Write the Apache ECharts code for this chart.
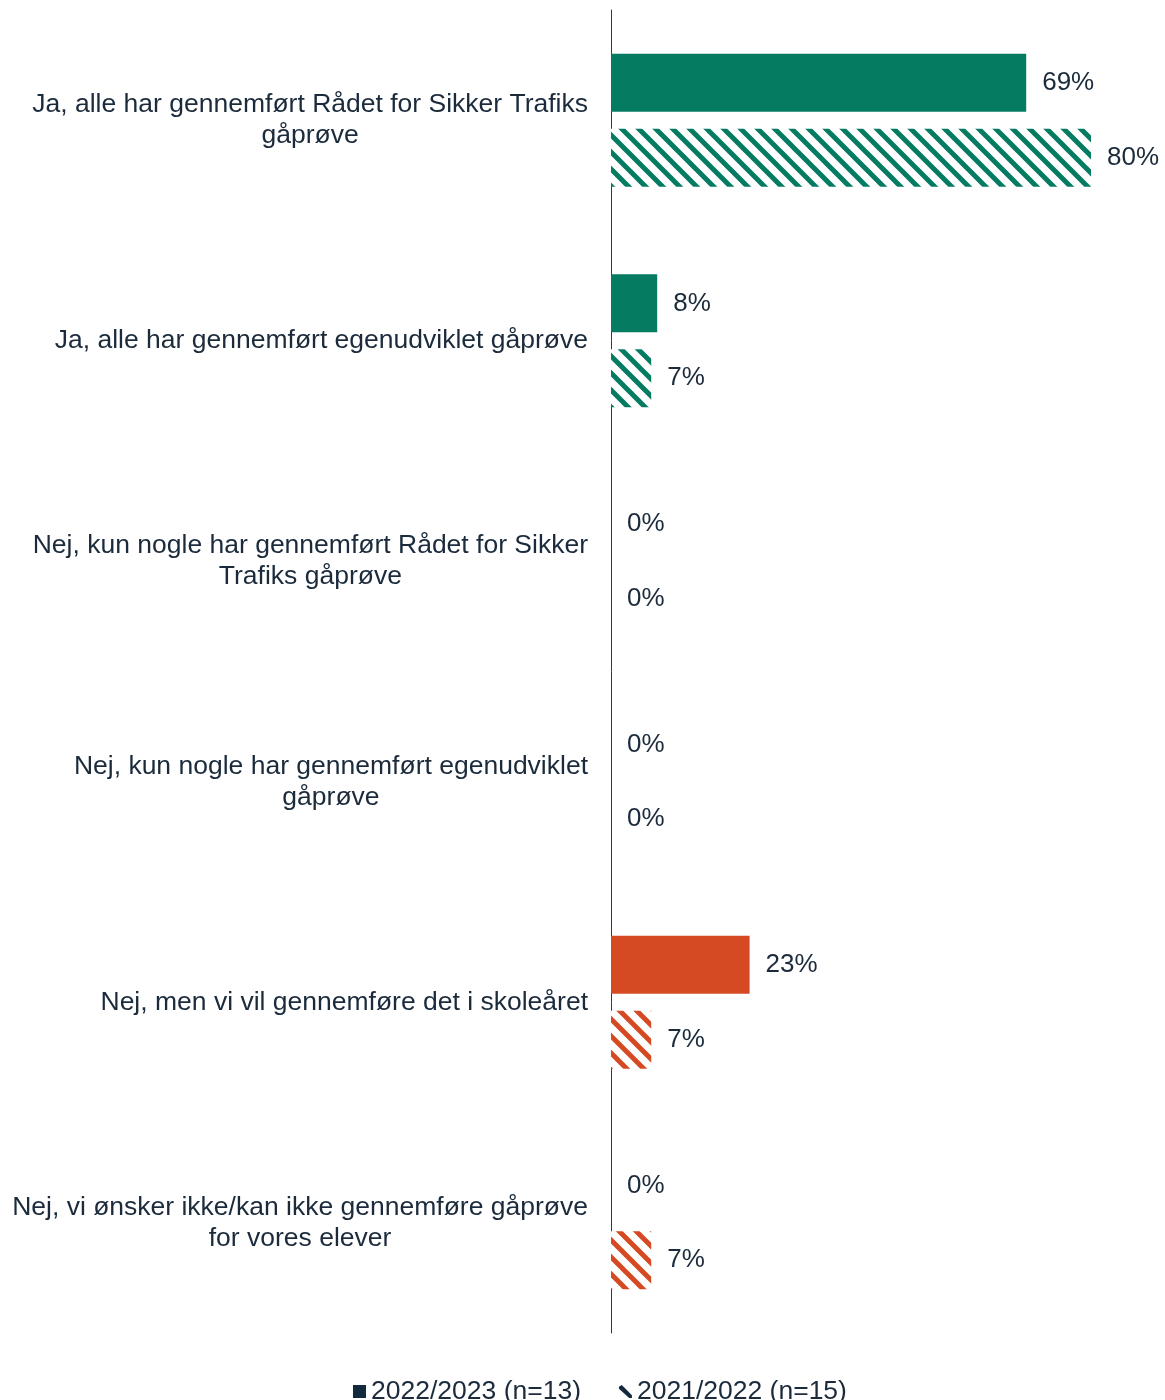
<!DOCTYPE html>
<html>
<head>
<meta charset="utf-8">
<script src="https://cdn.jsdelivr.net/npm/echarts@6/dist/echarts.min.js"></script>
<style>
  html, body { margin: 0; padding: 0; background: #fff; }
  #chart { width: 1165px; height: 1400px; }
</style>
</head>
<body>
<div id="chart"></div>
<script>
// svar-kategorier (linjeskift som i originalen)
const categories = [
  'Ja, alle har gennemført Rådet for Sikker Trafiks\ngåprøve',
  'Ja, alle har gennemført egenudviklet gåprøve',
  'Nej, kun nogle har gennemført Rådet for Sikker\nTrafiks gåprøve',
  'Nej, kun nogle har gennemført egenudviklet\ngåprøve',
  'Nej, men vi vil gennemføre det i skoleåret',
  'Nej, vi ønsker ikke/kan ikke gennemføre gåprøve\nfor vores elever'
]
const seriesNames = ['2022/2023 (n=13)', '2021/2022 (n=15)']
const values2223 = [69.2, 7.7, 0, 0, 23.1, 0]
const values2122 = [80, 6.7, 0, 0, 6.7, 6.7]

const GREEN = '#057B62'
const ORANGE = '#D64A23'
const TEXT = '#1B2B3C'
const FONT = '"Liberation Sans", Arial, sans-serif'

const hatch = function (color) {
    const size = 17
    const c = document.createElement('canvas')
    c.width = size
    c.height = size
    const ctx = c.getContext('2d')
    ctx.fillStyle = '#fff'
    ctx.fillRect(0, 0, size, size)
    ctx.strokeStyle = color
    ctx.lineWidth = 5
    ctx.beginPath()
    ctx.moveTo(-4, -4); ctx.lineTo(size + 4, size + 4)
    ctx.moveTo(size - 4, -4); ctx.lineTo(size + 4, 4)
    ctx.moveTo(-4, size - 4); ctx.lineTo(4, size + 4)
    ctx.stroke()
    return c
}
const greenHatch = hatch(GREEN)
const orangeHatch = hatch(ORANGE)

// orange for the "Nej, men..." and "Nej, vi ønsker..." rows
const isOrange = (i) => i >= 4

const label = {
    show: true,
    position: 'right',
    distance: 16,
    color: TEXT,
    fontSize: 26,
    fontFamily: FONT,
    formatter: (p) => Math.round(p.value) + '%'
}

const myChart = echarts.init(document.getElementById('chart'))
myChart.setOption({
    animation: false,
    textStyle: { fontFamily: FONT },
    grid: {
        left: 611,
        right: 14,
        top: 10,
        bottom: 67,
        containLabel: false
    },
    legend: {
        top: 1373,
        left: 348,
        itemWidth: 13,
        itemHeight: 13,
        itemGap: 38,
        textStyle: { color: TEXT, fontSize: 26.5, fontFamily: FONT },
        data: [
            { name: seriesNames[0], icon: 'rect', itemStyle: { color: '#13293D' } },
            { name: seriesNames[1], icon: 'path://M0,2 L3,0 L14,11 L14,14 L11,14 L0,4 Z', itemStyle: { color: '#13293D' } }
        ]
    },
    xAxis: {
        type: 'value',
        min: 0,
        max: 90,
        show: false
    },
    yAxis: {
        type: 'category',
        inverse: true,
        data: categories,
        axisLine: { show: true, lineStyle: { color: '#2E3A46', width: 1 } },
        axisTick: { show: false },
        axisLabel: {
            margin: 23,
            align: 'right',
            formatter: (v) => v.split('\n').map(s => '{c|' + s + '}').join('\n'),
            rich: {
                c: {
                    align: 'center',
                    color: TEXT,
                    fontSize: 26.5,
                    lineHeight: 31,
                    fontFamily: FONT
                }
            }
        }
    },
    series: [
        {
            name: seriesNames[0],
            type: 'bar',
            barWidth: 58,
            barGap: '29%',
            data: values2223.map((v, i) => ({
                value: v,
                itemStyle: { color: isOrange(i) ? ORANGE : GREEN }
            })),
            label: label
        },
        {
            name: seriesNames[1],
            type: 'bar',
            barWidth: 58,
            data: values2122.map((v, i) => ({
                value: v,
                itemStyle: {
                    color: { image: isOrange(i) ? orangeHatch : greenHatch, repeat: 'repeat' }
                }
            })),
            label: label
        }
    ]
})
</script>
</body>
</html>
